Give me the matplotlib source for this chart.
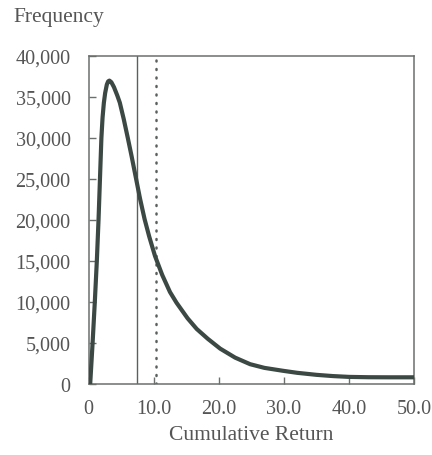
import matplotlib
matplotlib.use("Agg")
import matplotlib.pyplot as plt

# Values
returns = [0.25, 0.62, 0.96, 1.27, 1.53, 1.75, 1.97, 2.15, 2.35, 2.55, 2.8, 3.0, 3.2,
           3.5, 3.9, 4.4, 4.8, 5.4, 6.05, 6.6, 7.3, 7.9, 8.6, 9.3, 10.2, 11.3,
           12.5, 13.5, 15.2, 16.6, 18.3, 20.2, 22.5, 24.8, 27.0, 29.8, 32.0,
           35.0, 37.5, 40.0, 43.0, 46.0, 50.0]
frequency = [0, 5000, 10000, 15000, 20000, 25000, 30000, 32500, 34300, 35500, 36500, 36900, 37000,
             36800, 36200, 35200, 34300, 32300, 29900, 27800, 25000, 22600, 20100, 18000, 15600, 13300,
             11200, 9900, 8000, 6700, 5500, 4300, 3200, 2400, 1950, 1600, 1350,
             1100, 950, 850, 810, 800, 800]
median_line = 7.4
mean_line = 10.3
x_ticks = [0, 10, 20, 30, 40, 50]
x_tick_labels = ["0", "10.0", "20.0", "30.0", "40.0", "50.0"]
y_ticks = [0, 5000, 10000, 15000, 20000, 25000, 30000, 35000, 40000]
y_tick_labels = ["0", "5,000", "10,000", "15,000", "20,000", "25,000", "30,000", "35,000", "40,000"]

plt.rcParams['font.family'] = ['Liberation Serif', 'DejaVu Serif']
text_color = "#555555"
spine_color = "#6a6f6c"

fig = plt.figure(figsize=(4.32, 4.56), dpi=100)
ax = fig.add_axes([0.205, 0.156, 0.754, 0.719])

ax.plot(returns, frequency, color="#3b4843", lw=3.0, solid_joinstyle="round",
        solid_capstyle="round", zorder=3)
ax.axvline(median_line, color="#5a605d", lw=1.0, zorder=2)
ax.axvline(mean_line, color="#5a605d", lw=1.8, linestyle=(0, (0.4, 3.0)),
           dash_capstyle="round", zorder=2)

ax.set_xlim(0, 50)
ax.set_ylim(0, 40000)
ax.set_xticks(x_ticks)
ax.set_xticklabels(x_tick_labels)
ax.set_yticks(y_ticks)
ax.set_yticklabels(y_tick_labels)

ax.tick_params(axis='both', direction='in', length=5, width=1.0, color=spine_color,
               labelsize=14.5, labelcolor=text_color)
ax.tick_params(axis='x', pad=11)
ax.tick_params(axis='y', pad=13)

for s in ax.spines.values():
    s.set_color(spine_color)
    s.set_linewidth(1.1)

ax.set_xlabel("Cumulative Return", fontsize=15.5, color=text_color, labelpad=5)
fig.text(0.03, 0.962, "Frequency", fontsize=15.5, color=text_color, ha="left", va="center")

fig.savefig("out.png", dpi=100)
